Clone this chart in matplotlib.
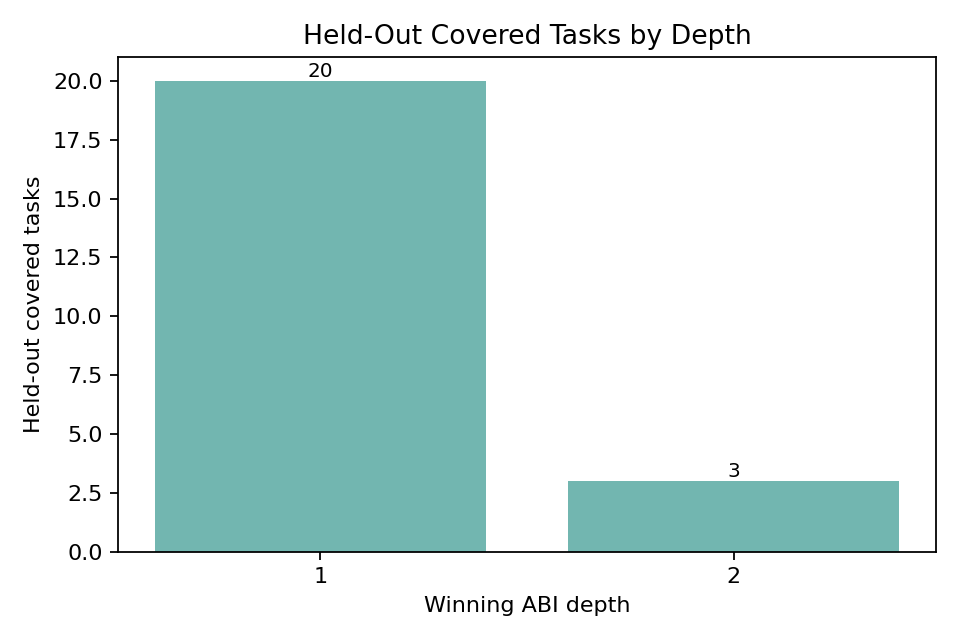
import matplotlib
matplotlib.use("Agg")
import matplotlib.pyplot as plt

depths = ["1", "2"]
counts = [20, 3]

fig, ax = plt.subplots(figsize=(6, 4), dpi=160)
bars = ax.bar(depths, counts, width=0.8, color="#72b6b0")
for bar, c in zip(bars, counts):
    ax.text(bar.get_x() + bar.get_width() / 2, c, str(c), ha="center", va="bottom", fontsize=9)
ax.set_ylim(0, 21)
ax.set_xlabel("Winning ABI depth")
ax.set_ylabel("Held-out covered tasks")
ax.set_title("Held-Out Covered Tasks by Depth")
plt.tight_layout()
plt.savefig("out.png", dpi=160)
